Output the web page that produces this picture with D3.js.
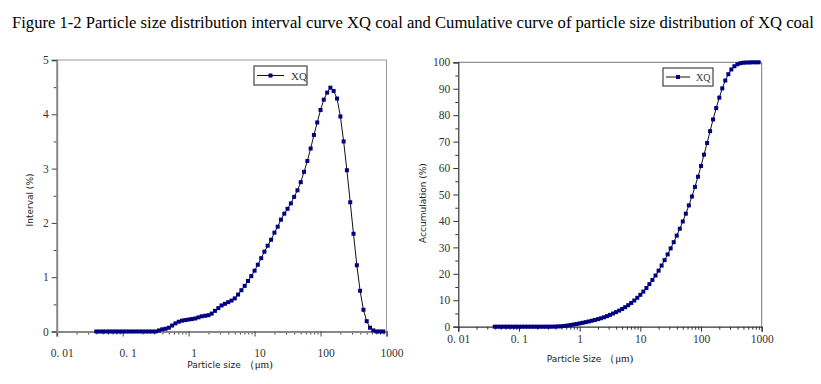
<!DOCTYPE html>
<html>
<head>
<meta charset="utf-8">
<script src="https://cdn.jsdelivr.net/npm/d3@7"></script>
<style>
  body { margin: 0; background: #fff; }
  svg { display: block; }
</style>
</head>
<body>
<svg id="chart" width="821" height="384"></svg>
<script>
// particle sizes (um), log spaced bins
const sizes = [
  0.0398, 0.0447, 0.0501, 0.0562, 0.0631, 0.0708, 0.0794, 0.0891,
  0.100, 0.112, 0.126, 0.141, 0.158, 0.178, 0.200, 0.224, 0.251, 0.282,
  0.316, 0.355, 0.398, 0.447, 0.501, 0.562, 0.631, 0.708, 0.794, 0.891,
  1.00, 1.12, 1.26, 1.41, 1.58, 1.78, 2.00, 2.24, 2.51, 2.82,
  3.16, 3.55, 3.98, 4.47, 5.01, 5.62, 6.31, 7.08, 7.94, 8.91,
  10.0, 11.2, 12.6, 14.1, 15.8, 17.8, 20.0, 22.4, 25.1, 28.2,
  31.6, 35.5, 39.8, 44.7, 50.1, 56.2, 63.1, 70.8, 79.4, 89.1,
  100, 112, 126, 141, 158, 178, 200, 224, 251, 282,
  316, 355, 398, 447, 501, 562, 631, 708, 794, 891
];

// interval (%) per bin
const interval = [
  0, 0, 0, 0, 0, 0, 0, 0, 0, 0, 0, 0, 0, 0, 0, 0, 0, 0, 0,
  0.02, 0.04, 0.05, 0.07, 0.11, 0.15, 0.18, 0.20, 0.21, 0.22,
  0.23, 0.24, 0.26, 0.28, 0.29, 0.30, 0.33, 0.38, 0.43, 0.48,
  0.51, 0.54, 0.57, 0.61, 0.68, 0.76, 0.84, 0.93, 1.02, 1.12,
  1.23, 1.35, 1.47, 1.58, 1.69, 1.82, 1.93, 2.06, 2.17, 2.26,
  2.36, 2.48, 2.60, 2.75, 2.94, 3.14, 3.37, 3.62, 3.85, 4.08,
  4.27, 4.40, 4.49, 4.43, 4.29, 3.96, 3.50, 2.97, 2.38, 1.80,
  1.22, 0.75, 0.40, 0.19, 0.07, 0.02,
  0, 0, 0
];

// accumulation (%) per bin
const accumulation = [
  0, 0, 0, 0, 0, 0, 0, 0, 0, 0, 0, 0, 0, 0, 0, 0, 0, 0, 0,
  0.02, 0.06, 0.11, 0.18, 0.29, 0.44, 0.62, 0.82, 1.03, 1.25,
  1.48, 1.72, 1.98, 2.26, 2.55, 2.85, 3.18, 3.56, 3.99, 4.47,
  4.98, 5.52, 6.09, 6.70, 7.38, 8.14, 8.98, 9.91, 10.93, 12.05,
  13.28, 14.63, 16.10, 17.68, 19.37, 21.19, 23.12, 25.18, 27.35, 29.61,
  31.97, 34.45, 37.05, 39.80, 42.74, 45.88, 49.25, 52.87, 56.72, 60.80,
  65.07, 69.47, 73.96, 78.39, 82.68, 86.64, 90.14, 93.11, 95.49, 97.29,
  98.51, 99.26, 99.66, 99.85, 99.92, 99.94,
  100, 100, 100
];

const decades = [0.01, 0.1, 1, 10, 100, 1000];
const decadeLabels = ["0. 01", "0. 1", "1", "10", "100", "1000"];
const seriesName = "XQ";
const title = "Figure 1-2 Particle size distribution interval curve XQ coal and Cumulative curve of particle size distribution of XQ coal";

const svg = d3.select("#chart");
const navy = "#000080";
const serif = "'Liberation Serif', 'DejaVu Serif', serif";
const sans = "'DejaVu Sans', 'Liberation Sans', sans-serif";

// minor ticks 2..9 in every decade
const minor = [];
decades.slice(0, -1).forEach((d) => {
  for (let k = 2; k <= 9; k++) minor.push(d * k);
});

svg.append("text")
  .attr("x", 12)
  .attr("y", 28)
  .attr("font-family", serif)
  .attr("font-size", 16.6)
  .attr("fill", "#000")
  .text(title);

function drawPanel(opt) {
  const g = svg.append("g");
  const x = d3.scaleLog().domain([0.01, 1000]).range([opt.left, opt.right]);
  const y = d3.scaleLinear().domain([0, opt.ymax]).range([opt.bottom, opt.top]);

  // frame (top, right)
  g.append("path")
    .attr("d", `M${opt.left},${opt.top}H${opt.right}V${opt.bottom}`)
    .attr("fill", "none")
    .attr("stroke", opt.frameColor)
    .attr("stroke-width", 1);

  // minor x ticks
  g.append("g")
    .attr("transform", `translate(0,${opt.bottom})`)
    .call(d3.axisBottom(x).tickValues(minor).tickSize(3).tickFormat(""))
    .call((s) => s.select(".domain").remove())
    .call((s) => s.selectAll("line").attr("stroke", opt.tickColor));

  // minor y ticks
  g.append("g")
    .attr("transform", `translate(${opt.left},0)`)
    .call(d3.axisLeft(y).tickValues(opt.yMinor).tickSize(3).tickFormat(""))
    .call((s) => s.select(".domain").remove())
    .call((s) => s.selectAll("line").attr("stroke", opt.tickColor));

  // major x axis
  const xa = g.append("g")
    .attr("transform", `translate(0,${opt.bottom})`)
    .call(d3.axisBottom(x).tickValues(decades).tickSize(5).tickPadding(opt.xPad)
      .tickFormat((d, i) => decadeLabels[i]));
  xa.select(".domain").attr("stroke", opt.axisColor).attr("stroke-width", opt.axisWidth);
  xa.selectAll("line").attr("stroke", opt.tickColor);
  xa.selectAll("text")
    .attr("font-family", serif)
    .attr("font-size", 11.5)
    .attr("fill", "#333")
    .attr("dx", opt.labelShift);

  // major y axis
  const ya = g.append("g")
    .attr("transform", `translate(${opt.left},0)`)
    .call(d3.axisLeft(y).tickValues(opt.yTicks).tickSize(5).tickPadding(3)
      .tickFormat((d) => String(d)));
  ya.select(".domain").attr("stroke", opt.axisColor).attr("stroke-width", opt.axisWidth);
  ya.selectAll("line").attr("stroke", opt.tickColor);
  ya.selectAll("text")
    .attr("font-family", serif)
    .attr("font-size", 11.5)
    .attr("fill", "#333");

  // axis titles
  g.append("text")
    .attr("transform", `translate(${opt.yTitleX},${opt.yTitleY}) rotate(-90)`)
    .attr("text-anchor", "middle")
    .attr("font-family", sans)
    .attr("font-size", 9)
    .attr("fill", "#222")
    .text(opt.yTitle);

  const xt = g.append("text")
    .attr("x", opt.xTitleX)
    .attr("y", opt.xTitleY)
    .attr("text-anchor", "middle")
    .attr("font-size", 9)
    .attr("fill", "#222");
  xt.append("tspan").attr("font-family", sans).text(opt.xTitle + "  ");
  xt.append("tspan").attr("font-family", serif).attr("font-size", 11).text("（μm)");

  // data line
  const data = sizes.map((s, i) => ({ s: s, v: opt.values[i] }));
  const line = d3.line().x((d) => x(d.s)).y((d) => y(d.v));
  g.append("path")
    .datum(data)
    .attr("fill", "none")
    .attr("stroke", "#111")
    .attr("stroke-width", 1)
    .attr("d", line);

  g.selectAll(".dot")
    .data(data)
    .enter()
    .append("rect")
    .attr("x", (d) => x(d.s) - 2)
    .attr("y", (d) => y(d.v) - 2)
    .attr("width", 4)
    .attr("height", 4)
    .attr("fill", navy);

  // legend
  const lg = opt.legend;
  g.append("rect")
    .attr("x", lg.x).attr("y", lg.y)
    .attr("width", lg.w).attr("height", lg.h)
    .attr("fill", "#fff")
    .attr("stroke", "#444")
    .attr("stroke-width", 1.2);
  g.append("line")
    .attr("x1", lg.x + 3).attr("x2", lg.x + lg.lineLen)
    .attr("y1", lg.y + lg.h / 2).attr("y2", lg.y + lg.h / 2)
    .attr("stroke", "#111");
  g.append("rect")
    .attr("x", lg.x + 3 + (lg.lineLen - 3) / 2 - 2)
    .attr("y", lg.y + lg.h / 2 - 2)
    .attr("width", 4).attr("height", 4)
    .attr("fill", navy);
  g.append("text")
    .attr("x", lg.x + lg.lineLen + lg.gap)
    .attr("y", lg.y + lg.h / 2 + 4)
    .attr("font-family", serif)
    .attr("font-size", lg.fs)
    .attr("fill", "#333")
    .text(seriesName);
}

drawPanel({
  left: 56.7, right: 386.5, top: 60, bottom: 331.5,
  ymax: 5, yTicks: [0, 1, 2, 3, 4, 5], yMinor: [0.5, 1.5, 2.5, 3.5, 4.5],
  values: interval,
  frameColor: "#999", axisColor: "#888", axisWidth: 2, tickColor: "#444",
  xPad: 12, labelShift: 5,
  yTitle: "Interval (%)", yTitleX: 33, yTitleY: 200,
  xTitle: "Particle size", xTitleX: 230, xTitleY: 368,
  legend: { x: 254, y: 66, w: 53, h: 19, lineLen: 30, gap: 7, fs: 11 }
});

drawPanel({
  left: 458.3, right: 761.7, top: 62.3, bottom: 326.7,
  ymax: 100, yTicks: [0, 10, 20, 30, 40, 50, 60, 70, 80, 90, 100],
  yMinor: [5, 15, 25, 35, 45, 55, 65, 75, 85, 95],
  values: accumulation,
  frameColor: "#777", axisColor: "#333", axisWidth: 1.2, tickColor: "#333",
  xPad: 3, labelShift: 0,
  yTitle: "Accumulation (%)", yTitleX: 426, yTitleY: 203,
  xTitle: "Particle Size", xTitleX: 590, xTitleY: 362,
  legend: { x: 663, y: 68, w: 50, h: 18, lineLen: 27, gap: 6, fs: 10 }
});
</script>
</body>
</html>
